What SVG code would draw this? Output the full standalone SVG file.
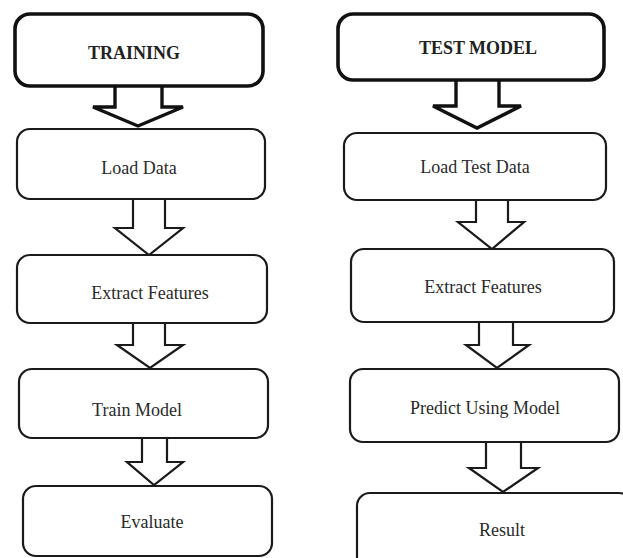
<svg xmlns="http://www.w3.org/2000/svg" width="623" height="558" viewBox="0 0 623 558">
<style>
.box{fill:#fff;stroke:#1a1a1a;stroke-width:2.2}
.title{fill:#fff;stroke:#111;stroke-width:3.6}
.arr{fill:#fff;stroke:#1a1a1a;stroke-width:2.2;stroke-linejoin:miter}
.arrT{fill:#fff;stroke:#111;stroke-width:3.4;stroke-linejoin:miter}
text{font-family:"Liberation Serif","Times New Roman",serif;font-size:18px;fill:#2a2a2a;text-anchor:middle}
.tt{font-weight:bold;fill:#222}
</style>
<rect width="623" height="558" fill="#fff"/>
<g id="connectors">
<path class="arrT" d="M115,86 L115,107 L93,107 L138,126 L183,107 L162,107 L162,86"/>
<path class="arr" d="M133,199 L133,228 L115,228 L149,255 L183,228 L165,228 L165,199"/>
<path class="arr" d="M133,323 L133,345 L117,345 L150,368 L183,345 L165,345 L165,323"/>
<path class="arr" d="M142,438 L142,462 L127,462 L154,485 L183,462 L167,462 L167,438"/>
<path class="arrT" d="M456,80 L456,106 L433,106 L477,128 L521,106 L499,106 L499,80"/>
<path class="arr" d="M476,200 L476,222 L458,222 L492,249 L524,222 L508,222 L508,200"/>
<path class="arr" d="M479,322 L479,345 L466,345 L497,368 L529,345 L513,345 L513,322"/>
<path class="arr" d="M486,442 L486,468 L469,468 L503,492 L538,468 L521,468 L521,442"/>
</g>
<g id="training"><rect class="title" x="15" y="14" width="248" height="72" rx="15"/><text class="tt" x="134" y="59">TRAINING</text></g>
<g id="load-data"><rect class="box" x="17" y="129" width="248" height="70" rx="13"/><text x="139" y="174">Load Data</text></g>
<g id="extract-features-1"><rect class="box" x="17" y="255" width="250" height="68" rx="13"/><text x="150" y="299">Extract Features</text></g>
<g id="train-model"><rect class="box" x="19" y="369" width="249" height="69" rx="13"/><text x="137" y="416">Train Model</text></g>
<g id="evaluate"><rect class="box" x="23" y="486" width="249" height="70" rx="13"/><text x="152" y="528">Evaluate</text></g>
<g id="test-model"><rect class="title" x="338" y="14" width="266" height="66" rx="15"/><text class="tt" x="478" y="54">TEST MODEL</text></g>
<g id="load-test-data"><rect class="box" x="344" y="133" width="262" height="67" rx="13"/><text x="475" y="173">Load Test Data</text></g>
<g id="extract-features-2"><rect class="box" x="351" y="249" width="263" height="73" rx="13"/><text x="483" y="293">Extract Features</text></g>
<g id="predict"><rect class="box" x="350" y="369" width="269" height="73" rx="13"/><text x="485" y="414">Predict Using Model</text></g>
<g id="result"><rect class="box" x="357" y="493" width="275" height="80" rx="13"/><text x="502" y="536">Result</text></g>
</svg>
